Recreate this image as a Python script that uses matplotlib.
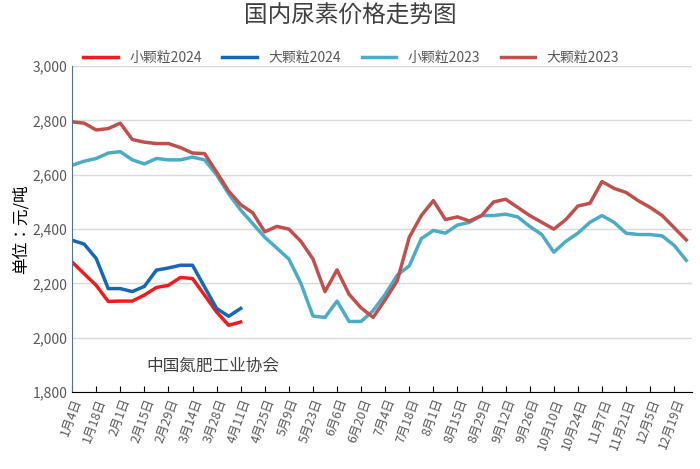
import numpy as np
import matplotlib.pyplot as plt

plt.rcParams['font.family'] = ['Noto Sans CJK JP', 'Noto Sans CJK SC', 'Noto Sans CJK TC', 'DejaVu Sans']

# 周度数据，2023全年52周，2024年1-4月
small_2024 = [2279, 2236, 2193, 2134, 2135, 2135, 2157, 2185, 2193, 2222, 2218, 2157, 2095, 2046, 2058]
big_2024 = [2359, 2345, 2292, 2181, 2181, 2170, 2189, 2249, 2257, 2267, 2267, 2187, 2108, 2079, 2108]
small_2023 = [2635, 2650, 2660, 2680, 2685, 2655, 2640, 2660, 2655, 2655,
              2665, 2655, 2600, 2530, 2470, 2420, 2370, 2330, 2290, 2200,
              2080, 2075, 2135, 2060, 2060, 2100, 2160, 2230, 2265, 2365,
              2395, 2385, 2415, 2425, 2450, 2450, 2455, 2445, 2410, 2380,
              2315, 2355, 2385, 2425, 2450, 2425, 2385, 2380, 2380, 2375,
              2340, 2285]
big_2023 = [2795, 2790, 2765, 2770, 2790, 2730, 2720, 2715, 2715, 2700,
            2680, 2678, 2610, 2540, 2490, 2460, 2390, 2410, 2400, 2355,
            2290, 2170, 2250, 2160, 2110, 2075, 2140, 2210, 2370, 2450,
            2505, 2435, 2445, 2430, 2450, 2500, 2510, 2480, 2450, 2425,
            2400, 2435, 2485, 2495, 2575, 2550, 2535, 2505, 2480, 2450,
            2405, 2360]
tick_labels = ['1月4日', '1月18日', '2月1日', '2月15日', '2月29日', '3月14日', '3月28日',
               '4月11日', '4月25日', '5月9日', '5月23日', '6月6日', '6月20日', '7月4日',
               '7月18日', '8月1日', '8月15日', '8月29日', '9月12日', '9月26日', '10月10日',
               '10月24日', '11月7日', '11月21日', '12月5日', '12月19日']

fig = plt.figure(figsize=(7, 4.69), dpi=100)
ax = fig.add_axes([0.103, 0.164, 0.886, 0.695])

ax.plot(np.arange(len(small_2024)), small_2024, color='#ee1c1c', lw=2.5, label='小颗粒2024')
ax.plot(np.arange(len(big_2024)), big_2024, color='#1668b4', lw=2.5, label='大颗粒2024')
ax.plot(np.arange(len(small_2023)), small_2023, color='#4bacc6', lw=2.5, label='小颗粒2023')
ax.plot(np.arange(len(big_2023)), big_2023, color='#c0504d', lw=2.5, label='大颗粒2023')

ax.set_xlim(0, 51.5)
ax.set_ylim(1800, 3000)
ax.set_yticks(range(1800, 3001, 200))
ax.set_yticklabels([f'{v:,}' for v in range(1800, 3001, 200)], color='#595959', fontsize=10)
ax.set_xticks(np.arange(0, 52, 2))
ax.set_xticklabels(tick_labels, rotation=70, ha='right', rotation_mode='anchor', color='#595959', fontsize=9)
ax.grid(axis='y', color='#d9d9d9', lw=1)
ax.set_axisbelow(True)
for s in ['top', 'right']:
    ax.spines[s].set_visible(False)
ax.spines['left'].set_color('#4f6f9f')
ax.spines['bottom'].set_color('#000000')
ax.tick_params(axis='y', length=0)
ax.tick_params(axis='x', direction='in', length=4)

ax.set_ylabel('单位：元/吨', fontsize=12, labelpad=2)
fig.suptitle('国内尿素价格走势图', fontsize=17, y=0.99, color='#404040')
ax.legend(loc='lower center', bbox_to_anchor=(0.45, 0.965), ncol=4, frameon=False,
          fontsize=10, handlelength=2.5, columnspacing=1.5, labelcolor='#595959')

ax.text(0.12, 0.065, '中国氮肥工业协会', transform=ax.transAxes, fontsize=12, color='#404040')

fig.savefig('out.png', dpi=100)
